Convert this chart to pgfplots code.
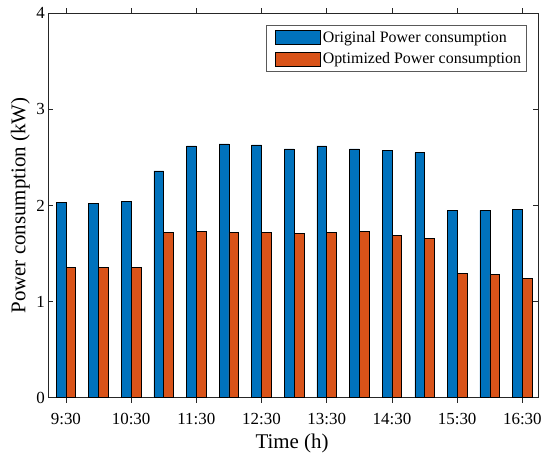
\documentclass[border=0pt]{standalone}
\usepackage{pgfplots}
\pgfplotsset{compat=1.18}
\usepackage{fontspec}
\setmainfont{Liberation Serif}
\definecolor{mblue}{rgb}{0,0.447,0.741}
\definecolor{morange}{rgb}{0.85,0.325,0.098}
\definecolor{axgray}{rgb}{0.15,0.15,0.15}
\begin{document}
\begin{tikzpicture}
\begin{axis}[
  scale only axis,
  width=489.7bp, height=384.4bp,
  xmin=-0.54, xmax=14.48,
  ymin=0, ymax=4,
  ytick={0,1,2,3,4},
  xtick={0,2,4,6,8,10,12,14},
  xticklabels={9:30,10:30,11:30,12:30,13:30,14:30,15:30,16:30},
  /pgf/number format/assume math mode=true,
  tick label style={font=\fontsize{17}{20}\selectfont, text=black},
  xticklabel style={yshift=-6.6bp},
  tick align=inside,
  major tick length=5bp,
  axis line style={axgray, line width=0.6bp},
  every tick/.style={axgray, line width=0.6bp},
  xlabel={Time (h)},
  ylabel={Power consumption (kW)},
  label style={font=\fontsize{21}{25}\selectfont},
  xlabel style={at={(axis description cs:0.4977,-0.118)}, anchor=center},
  ylabel style={at={(axis description cs:-0.0572,0.5)}, anchor=center},
  ybar,
  bar width=0.3,
  legend style={at={(1,1)}, anchor=north east, xshift=-11.3bp, yshift=-11.4bp,
    font=\fontsize{16}{19}\selectfont, draw=gray!70!black, line width=0.6bp,
    inner xsep=3.3bp, inner ysep=4bp, row sep=5bp,
    cells={anchor=west}},
  legend image code/.code={\path[draw=none,fill=none] (0bp,0bp) -- (1bp,0bp);
    \draw[#1, draw=black, line width=0.5bp] (5.5bp,-7bp) rectangle (50.5bp,7bp);},
]
\addplot[fill=mblue, draw=black, line width=0.5bp, bar shift=-0.15] coordinates {
(0,2.03) (1,2.02) (2,2.04) (3,2.36) (4,2.62) (5,2.64) (6,2.63) (7,2.59)
(8,2.62) (9,2.59) (10,2.57) (11,2.55) (12,1.95) (13,1.95) (14,1.96)};
\addplot[fill=morange, draw=black, line width=0.5bp, bar shift=0.15] coordinates {
(0,1.36) (1,1.36) (2,1.36) (3,1.72) (4,1.73) (5,1.72) (6,1.72) (7,1.71)
(8,1.72) (9,1.73) (10,1.69) (11,1.66) (12,1.29) (13,1.28) (14,1.24)};
\legend{Original Power consumption, Optimized Power consumption}
\end{axis}
\useasboundingbox (-48.3bp,-59.3bp) rectangle (501.7bp,397.7bp);
\end{tikzpicture}
\end{document}
